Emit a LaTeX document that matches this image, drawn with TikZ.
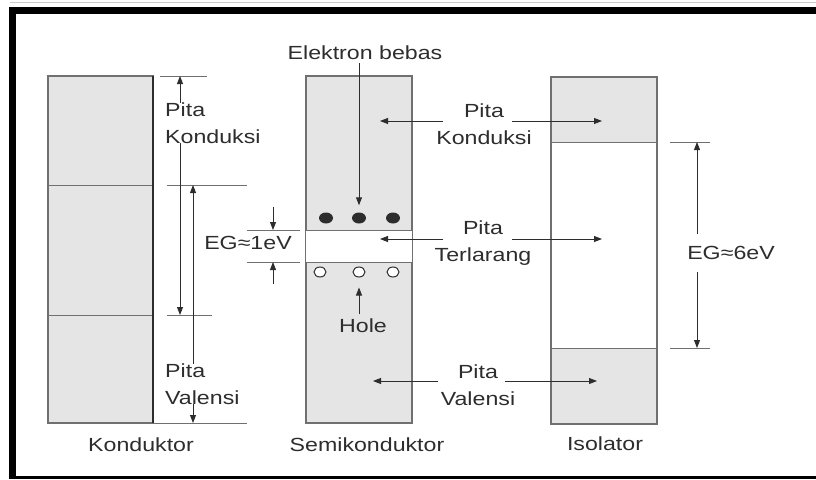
\documentclass[tikz,border=0pt]{standalone}
\usepackage{fontspec}
\setmainfont{Liberation Sans}[FakeStretch=1.22]
\usetikzlibrary{arrows.meta,shapes.geometric}
\definecolor{bandgray}{RGB}{229,229,229}
\definecolor{edgegray}{RGB}{112,112,112}
\definecolor{inkgray}{RGB}{45,45,45}
\tikzset{
    band/.style={fill=bandgray,draw=edgegray,line width=1.3pt},
    level/.style={draw=edgegray,line width=1pt},
    pointer/.style={draw=inkgray,line width=0.9pt,-{Triangle[length=8pt,width=6pt]}},
    twoway/.style={draw=inkgray,line width=0.9pt,{Triangle[length=8pt,width=6pt]}-{Triangle[length=8pt,width=6pt]}},
    txt/.style={font=\fontsize{19}{27}\selectfont,text=inkgray,inner sep=0pt,align=center},
    electron/.style={ellipse,fill=inkgray,minimum width=14pt,minimum height=11pt,inner sep=0pt},
    hole/.style={ellipse,draw=inkgray,fill=white,line width=1pt,minimum width=12pt,minimum height=10pt,inner sep=0pt}
}
\begin{document}
\begin{tikzpicture}[x=1pt,y=-1pt]
    \useasboundingbox (0,0) rectangle (816,479);
    \draw[gray!40,line width=1pt] (10,2)--(816,2);
    \draw[line width=7pt] (816,10)--(12.5,10)--(12.5,479);
    \draw[line width=3pt] (9,477.5)--(816,477.5);

    \draw[band] (48,76) rectangle (153,423);
    \draw[level] (48,185)--(153,185) (48,315)--(153,315);
    \draw[draw=inkgray,line width=1.8pt] (153,76)--(153,423);
    \draw[level] (153,423)--(247,423);
    \draw[level] (160,76)--(207,76) (167,185)--(247,185) (167,315)--(212,315);
    \coordinate (kc-top) at (180,76);
    \coordinate (kc-bot) at (180,315);
    \coordinate (kv-top) at (193,185);
    \coordinate (kv-bot) at (193,423);
    \draw[twoway] (kc-top)--(kc-bot);
    \draw[twoway] (kv-top)--(kv-bot);
    \node[txt,align=left,anchor=west,fill=white] (kc) at (165,123) {Pita\\Konduksi};
    \node[txt,align=left,anchor=west,fill=white] (kv) at (165,384) {Pita\\Valensi};
    \node[txt] (konduktor) at (141,445) {Konduktor};

    \draw[band] (306,76) rectangle (412,423);
    \fill[white] (306,230) rectangle (412,262);
    \draw[level] (306,230)--(412,230) (306,262)--(412,262);
    \draw[level] (247,230)--(300,230) (247,262)--(300,262);
    \node[txt] (eg1) at (248,243) {EG≈1eV};
    \coordinate (g1-top) at (273,230);
    \coordinate (g1-bot) at (273,262);
    \draw[pointer] (273,207)--(g1-top);
    \draw[pointer] (273,284)--(g1-bot);
    \foreach \i/\x in {1/326,2/359,3/393}
        \node[electron] (e\i) at (\x,218) {};
    \foreach \i/\x in {1/320,2/359,3/393}
        \node[hole] (h\i) at (\x,272) {};
    \node[txt] (bebas) at (365,53) {Elektron bebas};
    \draw[pointer,shorten <=3pt] (bebas.south -| e2)--([yshift=7pt]e2.north);
    \node[txt] (holes) at (363,326) {Hole};
    \draw[pointer,shorten <=5pt] (holes.north -| h2)--([yshift=-10pt]h2.south);
    \node[txt] (semi) at (367,445) {Semikonduktor};

    \fill[bandgray] (551,77) rectangle (657,142) (551,348) rectangle (657,424);
    \draw[edgegray,line width=1.3pt] (551,77) rectangle (657,424);
    \draw[level] (551,142)--(657,142) (551,348)--(657,348);
    \draw[level] (670,142)--(710,142) (670,348)--(710,348);
    \coordinate (i-top) at (697,142);
    \coordinate (i-bot) at (697,348);
    \node[txt,inner ysep=12pt] (eg6) at (731,253) {EG≈6eV};
    \draw[pointer] (eg6.north -| i-top)--(i-top);
    \draw[pointer] (eg6.south -| i-bot)--(i-bot);
    \node[txt] (iso) at (605,444) {Isolator};

    \node[txt] (pk) at (484,124) {Pita\\Konduksi};
    \node[txt] (pt) at (483,243) {Pita\\Terlarang};
    \node[txt] (pv) at (478,385) {Pita\\Valensi};
    \coordinate (pk-l) at (443,121);
    \coordinate (pk-r) at (512,121);
    \coordinate (pt-l) at (443,239);
    \coordinate (pt-r) at (512,239);
    \coordinate (pv-l) at (438,381);
    \coordinate (pv-r) at (505,381);
    \coordinate (s-cb) at (380,121);
    \coordinate (s-gap) at (380,239);
    \coordinate (s-vb) at (373,381);
    \coordinate (i-cb) at (602,121);
    \coordinate (i-gap) at (602,239);
    \coordinate (i-vb) at (597,381);
    \draw[pointer] (pk-l)--(s-cb);
    \draw[pointer] (pk-r)--(i-cb);
    \draw[pointer] (pt-l)--(s-gap);
    \draw[pointer] (pt-r)--(i-gap);
    \draw[pointer] (pv-l)--(s-vb);
    \draw[pointer] (pv-r)--(i-vb);
\end{tikzpicture}
\end{document}
